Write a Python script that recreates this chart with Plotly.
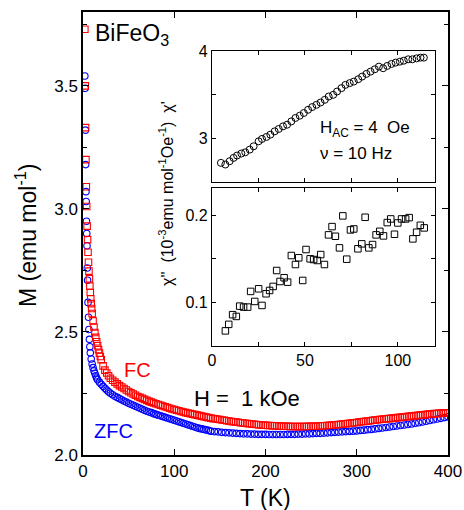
import plotly.graph_objects as go

# ---------------- data ----------------
FC_T = [2.0, 2.4, 2.8, 3.2, 3.6, 4.0, 4.5, 5.0, 5.5, 6.0,
        6.5, 7.0, 7.5, 8.0, 8.5, 9.0, 9.5, 10, 11, 12,
        13, 14, 15, 16, 17, 18, 19, 20, 22, 24,
        26, 28,
        30, 32.5, 35, 37.5, 40, 42.5, 45, 47.5,
        50, 52.5, 55, 57.5, 60, 62.5, 65, 67.5,
        70, 72.5, 75, 77.5, 80, 82.5, 85, 87.5,
        90, 92.5, 95, 97.5, 100, 102.5, 105, 107.5,
        110, 112.5, 115, 117.5, 120, 122.5, 125, 127.5,
        130, 132.5, 135, 137.5, 140, 142.5, 145, 147.5,
        150, 152.5, 155, 157.5, 160, 162.5, 165, 167.5,
        170, 172.5, 175, 177.5, 180, 182.5, 185, 187.5,
        190, 192.5, 195, 197.5, 200, 202.5, 205, 207.5,
        210, 212.5, 215, 217.5, 220, 222.5, 225, 227.5,
        230, 232.5, 235, 237.5, 240, 242.5, 245, 247.5,
        250, 252.5, 255, 257.5, 260, 262.5, 265, 267.5,
        270, 272.5, 275, 277.5, 280, 282.5, 285, 287.5,
        290, 292.5, 295, 297.5, 300, 302.5, 305, 307.5,
        310, 312.5, 315, 317.5, 320, 322.5, 325, 327.5,
        330, 332.5, 335, 337.5, 340, 342.5, 345, 347.5,
        350, 352.5, 355, 357.5, 360, 362.5, 365, 367.5,
        370, 372.5, 375, 377.5, 380, 382.5, 385, 387.5,
        390, 392.5, 395, 397.5, 400]
FC_M = [3.73, 3.50, 3.33, 3.20, 3.09, 3.01, 2.93, 2.875, 2.824, 2.783,
        2.747, 2.716, 2.686, 2.660, 2.635, 2.615, 2.595, 2.575, 2.545, 2.520,
        2.498, 2.478, 2.460, 2.444, 2.428, 2.414, 2.400, 2.387, 2.362, 2.345,
        2.333, 2.322,
        2.312, 2.304, 2.296, 2.289, 2.282, 2.276, 2.270, 2.264,
        2.258, 2.253, 2.248, 2.243, 2.238, 2.234, 2.230, 2.226,
        2.222, 2.218, 2.215, 2.211, 2.208, 2.205, 2.202, 2.199,
        2.196, 2.193, 2.190, 2.187, 2.185, 2.182, 2.180, 2.177,
        2.175, 2.172, 2.170, 2.168, 2.166, 2.164, 2.162, 2.160,
        2.158, 2.156, 2.154, 2.152, 2.150, 2.148, 2.147, 2.145,
        2.144, 2.142, 2.141, 2.139, 2.138, 2.136, 2.135, 2.134,
        2.133, 2.131, 2.130, 2.129, 2.128, 2.127, 2.126, 2.125,
        2.124, 2.123, 2.122, 2.121, 2.121, 2.120, 2.120, 2.119,
        2.119, 2.118, 2.118, 2.117, 2.117, 2.117, 2.117, 2.116,
        2.116, 2.116, 2.116, 2.116, 2.116, 2.116, 2.116, 2.117,
        2.117, 2.117, 2.117, 2.118, 2.118, 2.119, 2.119, 2.120,
        2.121, 2.121, 2.122, 2.123, 2.124, 2.125, 2.126, 2.127,
        2.128, 2.129, 2.130, 2.131, 2.132, 2.134, 2.135, 2.136,
        2.137, 2.138, 2.139, 2.141, 2.142, 2.143, 2.144, 2.145,
        2.146, 2.147, 2.148, 2.149, 2.150, 2.151, 2.152, 2.153,
        2.154, 2.155, 2.156, 2.157, 2.158, 2.159, 2.160, 2.161,
        2.162, 2.163, 2.164, 2.165, 2.166, 2.167, 2.168, 2.168,
        2.169, 2.170, 2.170, 2.171, 2.171]

ZFC_T = [2.0, 2.3, 2.6, 2.9, 3.2, 3.5, 3.8, 4.1, 4.4, 4.7,
         5.0, 5.5, 6.0, 6.5, 7.0, 7.5, 8.0, 9.0, 10, 11,
         12, 13, 14, 15, 16, 18, 20, 22, 24, 26,
         28, 30,
         32.5, 35, 37.5, 40, 42.5, 45, 47.5,
         50, 52.5, 55, 57.5, 60, 62.5, 65, 67.5,
         70, 72.5, 75, 77.5, 80, 82.5, 85, 87.5,
         90, 92.5, 95, 97.5, 100, 102.5, 105, 107.5,
         110, 112.5, 115, 117.5, 120, 122.5, 125, 127.5,
         130, 132.5, 135, 137.5,
         140, 144, 148, 152, 156, 160, 164, 168, 172, 176,
         180, 184, 188, 192, 196, 200, 204, 208, 212, 216,
         220, 224, 228, 232, 236, 240, 244, 248, 252, 256,
         260, 264, 268, 272, 276, 280, 284, 288, 292, 296,
         300, 304, 308, 312, 316, 320, 324, 328, 332, 336,
         340, 344, 348, 352, 356, 360, 364, 368, 372, 376,
         380, 384, 388, 392, 396, 400]
ZFC_M = [3.54, 3.49, 3.32, 3.18, 3.07, 3.03, 2.95, 2.90, 2.85, 2.76,
         2.71, 2.62, 2.56, 2.51, 2.47, 2.44, 2.415, 2.39, 2.37, 2.355,
         2.342, 2.332, 2.322, 2.313, 2.306, 2.296, 2.287, 2.279, 2.271, 2.264,
         2.257, 2.251,
         2.245, 2.239, 2.234, 2.229, 2.224, 2.219, 2.215,
         2.210, 2.206, 2.202, 2.198, 2.194, 2.190, 2.186, 2.182,
         2.178, 2.175, 2.172, 2.168, 2.165, 2.162, 2.159, 2.156,
         2.153, 2.150, 2.147, 2.144, 2.141, 2.138, 2.135, 2.132,
         2.129, 2.126, 2.123, 2.120, 2.117, 2.114, 2.111, 2.108,
         2.106, 2.104, 2.102, 2.100,
         2.097, 2.095, 2.094, 2.092, 2.091, 2.090, 2.089, 2.088, 2.087, 2.086,
         2.086, 2.085, 2.085, 2.084, 2.084, 2.084, 2.083, 2.083, 2.083, 2.083,
         2.083, 2.084, 2.084, 2.084, 2.085, 2.085, 2.086, 2.086, 2.087, 2.088,
         2.088, 2.089, 2.090, 2.091, 2.092, 2.093, 2.094, 2.095, 2.096, 2.097,
         2.098, 2.100, 2.101, 2.103, 2.104, 2.106, 2.108, 2.110, 2.112, 2.114,
         2.116, 2.118, 2.120, 2.122, 2.124, 2.126, 2.129, 2.131, 2.134, 2.137,
         2.140, 2.143, 2.146, 2.149, 2.152, 2.155]

CHI1_T = [4.8, 7.2, 9.5, 11.6, 13.5, 15.8, 17.9, 20.3, 22.4, 25.1,
          26.9, 29.3, 31.4, 33.7, 35.9, 38.2, 40.4, 42.7, 44.9, 47.2,
          49.4, 51.7, 53.9, 56.2, 58.4, 60.7, 62.8, 65.2, 67.3, 69.7,
          71.8, 74.1, 76.3, 78.7, 80.8, 83.1, 85.3, 87.6, 89.8, 92.1,
          94.3, 96.6, 98.8, 101.1, 103.2, 105.6, 107.8, 110.1, 112.2, 114.0]
CHI1 = [2.719, 2.70, 2.738, 2.776, 2.803, 2.826, 2.84, 2.871, 2.909, 2.966,
        2.993, 3.016, 3.042, 3.08, 3.107, 3.137, 3.156, 3.194, 3.233, 3.259,
        3.29, 3.327, 3.358, 3.384, 3.41, 3.441, 3.479, 3.498, 3.536, 3.575,
        3.612, 3.632, 3.65, 3.677, 3.707, 3.738, 3.764, 3.791, 3.821, 3.803,
        3.829, 3.852, 3.867, 3.878, 3.889, 3.905, 3.905, 3.916, 3.924, 3.924]

CHI2_T = [7.2, 9.0, 11.1, 13.1, 14.9, 17.0, 19.2, 20.8, 23.0, 25.1,
          26.9, 29.1, 31.0, 32.9, 34.8, 36.6, 38.8, 40.7, 42.7, 44.9,
          46.7, 48.8, 50.6, 52.8, 54.7, 56.7, 58.5, 60.5, 62.7, 64.6,
          66.4, 68.6, 70.4, 72.5, 74.5, 76.3, 78.5, 80.6, 82.4, 84.4,
          86.4, 88.3, 90.3, 92.3, 94.3, 96.2, 98.2, 100.0, 102.0, 104.2,
          106.1, 108.1, 110.1, 112.1, 114.2]
CHI2 = [0.067, 0.0745, 0.0856, 0.0836, 0.0954, 0.0943, 0.0943, 0.1123, 0.1008, 0.1153,
        0.0962, 0.1096, 0.1134, 0.118, 0.1363, 0.1237, 0.128, 0.1229, 0.1535, 0.1432,
        0.1509, 0.1249, 0.1604, 0.1497, 0.1489, 0.1478, 0.1546, 0.1432, 0.1772, 0.1867,
        0.1756, 0.1623, 0.199, 0.1493, 0.1829, 0.184, 0.1612, 0.1669, 0.1974, 0.1623,
        0.1661, 0.1772, 0.1813, 0.176, 0.1913, 0.1955, 0.1779, 0.1909, 0.1955, 0.1955,
        0.197, 0.1726, 0.1802, 0.1882, 0.1852]

MAIN_XTICKS = [0, 100, 200, 300, 400]
INSET_XTICKS = [0, 50, 100]
CHI1_TICKS = [3, 4]
CHI2_TICKS = [0.1, 0.2]

# ---------------- layout helpers ----------------
W, H = 464, 510
FONT = "Liberation Sans, Arial, sans-serif"


def px(x):
    return x / W


def py(y):
    return 1 - y / H


fig = go.Figure()
fig.add_trace(go.Scatter(
    x=ZFC_T, y=ZFC_M, mode="markers", xaxis="x", yaxis="y",
    marker=dict(symbol="circle-open", size=6.5, color="#0000ff",
                line=dict(width=1.1, color="#0000ff"))))
fig.add_trace(go.Scatter(
    x=FC_T, y=FC_M, mode="markers", xaxis="x", yaxis="y",
    marker=dict(symbol="square-open", size=6.5, color="#ff0000",
                line=dict(width=1.1, color="#ff0000"))))
fig.add_trace(go.Scatter(
    x=CHI1_T, y=CHI1, mode="markers", xaxis="x2", yaxis="y2",
    marker=dict(symbol="circle-open", size=7, color="#000000",
                line=dict(width=1, color="#000000"))))
fig.add_trace(go.Scatter(
    x=CHI2_T, y=CHI2, mode="markers", xaxis="x3", yaxis="y3",
    marker=dict(symbol="square-open", size=6.5, color="#000000",
                line=dict(width=1, color="#000000"))))

common = dict(showline=True, linecolor="black", mirror="ticks",
              ticks="inside", tickcolor="black", showgrid=False, zeroline=False,
              fixedrange=True, automargin=False)


def minor(t0, dt, ln):
    return dict(tick0=t0, dtick=dt, ticks="inside", ticklen=ln,
                tickcolor="black", tickwidth=1.2, showgrid=False)


ix0, ix1 = px(212), px(435)

fig.update_layout(
    width=W, height=H, margin=dict(l=0, r=0, t=0, b=0, pad=0),
    paper_bgcolor="white", plot_bgcolor="rgba(0,0,0,0)", showlegend=False,
    font=dict(family=FONT, color="black"),
    xaxis=dict(domain=[px(83), px(448)], range=[0, 400], anchor="y",
               tickvals=MAIN_XTICKS, ticklen=6, tickwidth=1.2, linewidth=1.5,
               tickfont=dict(size=17), **common),
    yaxis=dict(domain=[py(455), py(12)], range=[2.0, 3.8], anchor="x",
               tick0=2.0, dtick=0.5, tickformat=".1f", ticklen=6, tickwidth=1.2,
               linewidth=1.5, minor=minor(2.0, 0.25, 4),
               tickfont=dict(size=17), **common),
    xaxis2=dict(domain=[ix0, ix1], range=[0, 120], anchor="y2",
                tickvals=INSET_XTICKS, showticklabels=False, ticklen=4,
                linewidth=1.3, tickwidth=1.2, minor=minor(0, 25, 4), **common),
    yaxis2=dict(domain=[py(182), py(51)], range=[2.5, 4.0], anchor="x2",
                tickvals=CHI1_TICKS, ticklen=4, minor=minor(3.0, 0.5, 4),
                linewidth=1.3, tickwidth=1.2, tickfont=dict(size=16), **common),
    xaxis3=dict(domain=[ix0, ix1], range=[0, 120], anchor="y3",
                tickvals=INSET_XTICKS, ticklen=4, minor=minor(0, 25, 4),
                linewidth=1.3, tickwidth=1.2, tickfont=dict(size=16), **common),
    yaxis3=dict(domain=[py(345.7), py(188)], range=[0.05, 0.231], anchor="x3",
                tickvals=CHI2_TICKS, tickformat=".1f", ticklen=4,
                minor=minor(0.05, 0.05, 4), linewidth=1.3,
                tickwidth=1.2, tickfont=dict(size=16), **common),
)


def ann(text, x, y, size, color="black", xanchor="center", yanchor="middle", angle=0):
    fig.add_annotation(text=text, x=px(x), y=py(y), xref="paper", yref="paper",
                       showarrow=False, xanchor=xanchor, yanchor=yanchor,
                       textangle=angle, font=dict(size=size, color=color, family=FONT))


ann("T (K)", 265.5, 498, 23)
ann("M (emu mol<sup>-1</sup>)", 26, 236, 23, angle=-90)
ann("BiFeO<sub>3</sub>", 93, 35, 23, xanchor="left")
ann("FC", 122, 369.5, 20, color="#ff0000", xanchor="left")
ann("ZFC", 92, 430.5, 20, color="#0000ff", xanchor="left")
ann("H =  1 kOe", 192, 398, 22, xanchor="left")
ann("H<sub>AC</sub> = 4 \u00a0Oe", 318, 129, 17, xanchor="left")
ann("\u03bd = 10 Hz", 318, 153, 17, xanchor="left")
ann("\u03c7''\u00a0 (10<sup>-3</sup>emu mol<sup>-1</sup>Oe<sup>-1</sup>)\u00a0 \u03c7'",
    166, 194, 16, angle=-90)

fig.write_html(
    "out.html",
    post_script="document.body.style.margin='0';document.body.style.overflow='hidden';",
)
